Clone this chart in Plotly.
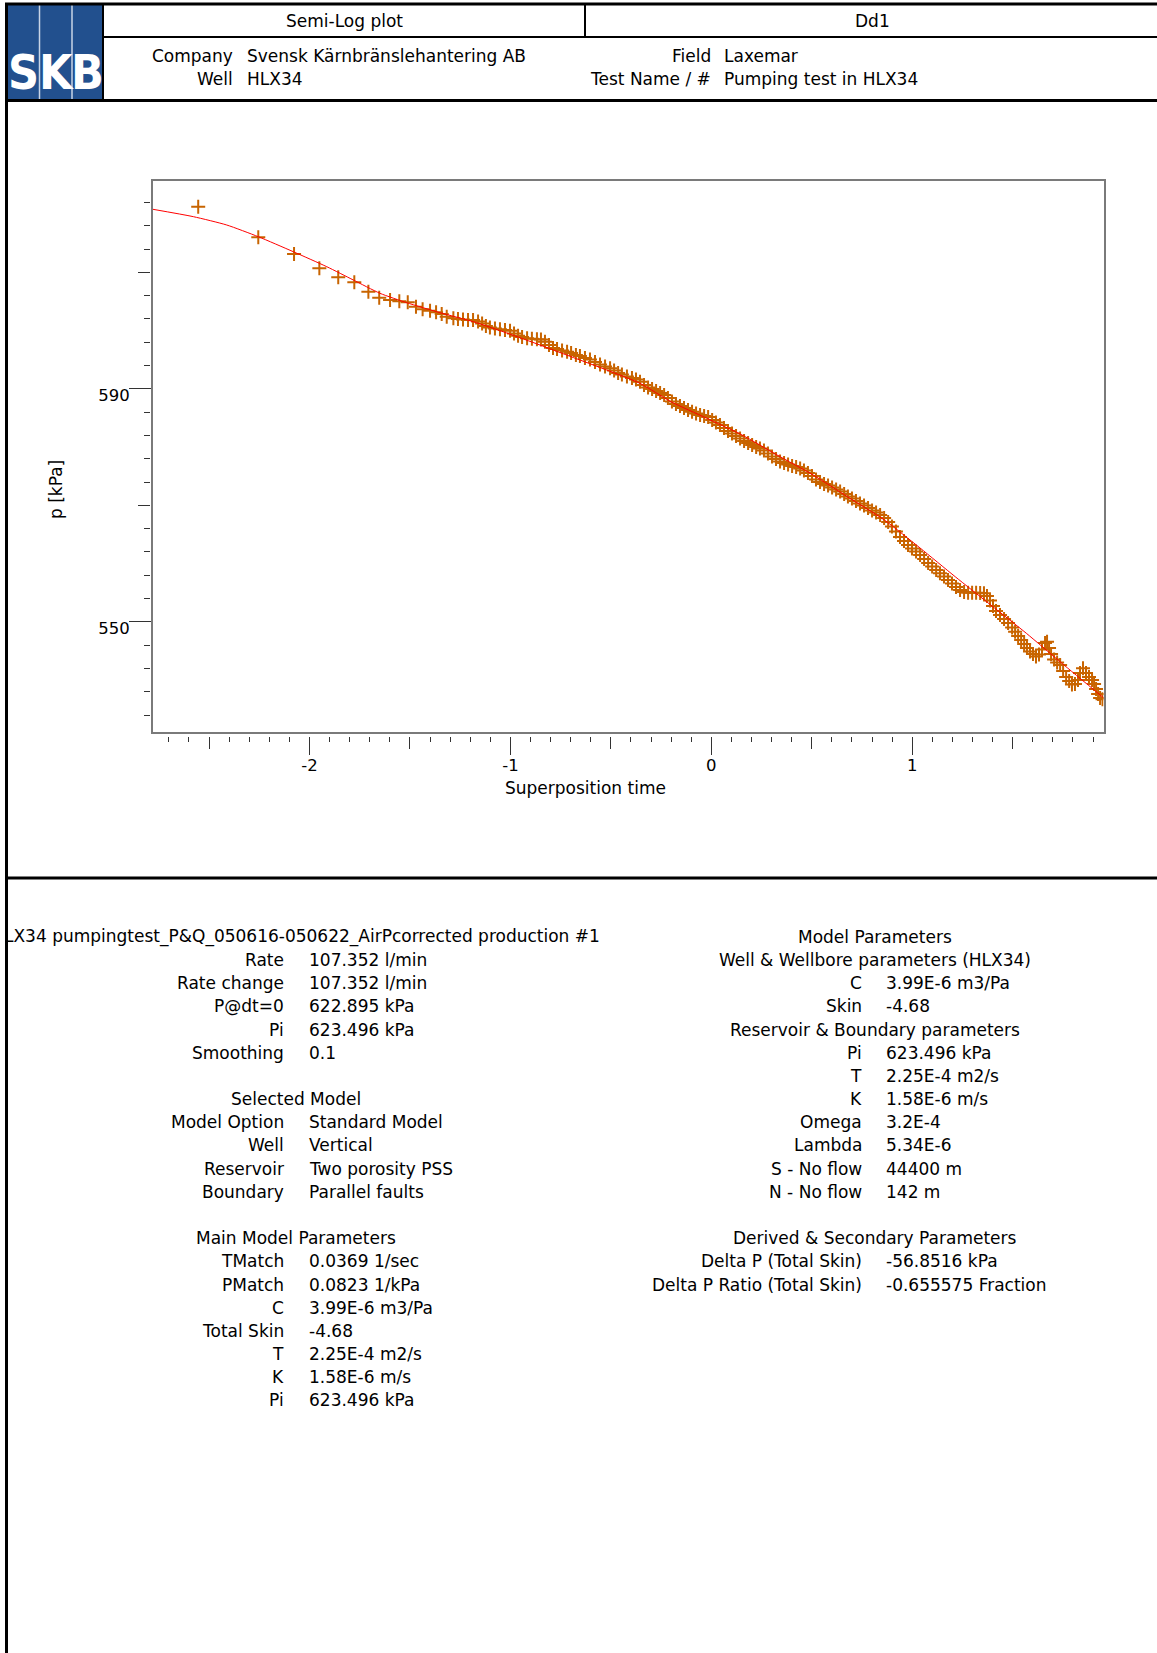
import plotly.graph_objects as go

W, H = 1157, 1653
FONT = "DejaVu Sans"
TXT = 17.0

# ---------------- data ----------------
obs_t = [-2.554, -2.255, -2.077, -1.951, -1.857, -1.777, -1.707, -1.653, -1.599, -1.553,
         -1.511, -1.470, -1.437, -1.400, -1.370, -1.342, -1.317, -1.284,
         -1.261, -1.236, -1.211, -1.186, -1.161, -1.141, -1.122, -1.102, -1.077, -1.052,
         -1.027, -1.002, -0.982, -0.962, -0.942, -0.917, -0.893, -0.868, -0.848, -0.828,
         -0.808, -0.788, -0.768, -0.743, -0.718, -0.698, -0.674, -0.654, -0.629, -0.604,
         -0.579, -0.554, -0.529, -0.504, -0.484, -0.464, -0.445, -0.420, -0.395, -0.375,
         -0.355, -0.335, -0.315, -0.295, -0.275, -0.255, -0.235, -0.216, -0.196, -0.176,
         -0.156, -0.136, -0.116, -0.096, -0.076, -0.056, -0.036, -0.016, 0.004, 0.023,
         0.043, 0.063, 0.083, 0.103, 0.123, 0.143, 0.163, 0.183, 0.203, 0.223,
         0.242, 0.262, 0.282, 0.302, 0.322, 0.342, 0.362, 0.382, 0.402, 0.422,
         0.442, 0.461, 0.481, 0.501, 0.521, 0.541, 0.561, 0.581, 0.601, 0.621,
         0.641, 0.661, 0.680, 0.700, 0.720, 0.740, 0.760, 0.780, 0.800, 0.820,
         0.840, 0.860, 0.880, 0.899, 0.919, 0.939, 0.959, 0.979, 0.999, 1.019,
         1.039, 1.059, 1.079, 1.099, 1.119, 1.138, 1.158, 1.178, 1.198, 1.218,
         1.238, 1.258, 1.278, 1.298, 1.318, 1.338, 1.357, 1.372, 1.387, 1.402,
         1.417, 1.437, 1.457, 1.477, 1.497, 1.512, 1.527, 1.542, 1.557, 1.571,
         1.586, 1.601, 1.616, 1.631, 1.646, 1.661, 1.671, 1.681, 1.691, 1.706,
         1.721, 1.736, 1.751, 1.766, 1.781, 1.795, 1.810, 1.825, 1.835, 1.850,
         1.865, 1.880, 1.895, 1.905, 1.915, 1.925, 1.935, 1.947]
obs_p = [621.26, 616.01, 613.14, 610.69, 609.14, 608.28, 606.67, 605.64, 605.24, 605.02,
         604.85, 604.09, 603.65, 603.41, 603.13, 602.84, 602.38, 602.10,
         601.98, 601.90, 601.81, 601.81, 601.55, 601.21, 600.78, 600.52, 600.35, 600.21,
         600.09, 599.97, 599.49, 599.12, 598.89, 598.67, 598.58, 598.51, 598.46, 598.09,
         597.52, 597.00, 596.83, 596.58, 596.37, 596.15, 595.80, 595.63, 595.29, 595.03,
         594.60, 594.17, 593.83, 593.52, 593.14, 592.71, 592.45, 592.11, 591.85, 591.60,
         591.22, 590.65, 590.22, 589.97, 589.62, 589.28, 588.94, 588.42, 587.82, 587.39,
         587.05, 586.70, 586.36, 586.07, 585.76, 585.50, 585.33, 585.16, 584.64, 584.21,
         583.79, 583.27, 582.76, 582.33, 581.90, 581.47, 581.04, 580.70, 580.35, 580.01,
         579.75, 579.41, 578.89, 578.38, 577.95, 577.52, 577.26, 577.00, 576.75, 576.58,
         576.32, 575.97, 575.55, 575.03, 574.43, 574.00, 573.66, 573.40, 573.06, 572.71,
         572.37, 571.94, 571.51, 571.17, 570.74, 570.31, 569.97, 569.54, 569.11, 568.76,
         568.33, 567.82, 567.13, 566.36, 565.50, 564.56, 563.87, 563.18, 562.58, 562.07,
         561.47, 560.78, 560.09, 559.49, 558.89, 558.33, 557.78, 557.18, 556.58, 555.97,
         555.46, 555.12, 555.00, 555.00, 555.00, 554.94, 554.89, 554.43, 553.66, 552.71,
         551.85, 551.17, 550.48, 549.79, 549.02, 548.30, 547.56, 546.88, 546.19, 545.50,
         544.90, 544.47, 544.04, 544.39, 545.24, 546.36, 546.58, 545.50, 544.47, 543.53,
         543.01, 542.58, 541.55, 540.52, 539.84, 539.24, 539.32, 540.01, 541.21, 542.02,
         541.21, 540.52, 540.01, 539.32, 538.46, 537.60, 536.92, 536.70]

model_t = [-2.780, -2.578, -2.412, -2.255, -2.081, -1.914, -1.782, -1.649, -1.516, -1.350,
           -1.185, -1.018, -0.853, -0.687, -0.521, -0.355, -0.201, -0.026, 0.153, 0.327,
           0.507, 0.680, 0.861, 1.039, 1.214, 1.391, 1.568, 1.745, 1.952]
model_p = [620.82, 619.55, 618.12, 616.11, 613.54, 610.96, 608.68, 606.39, 604.78, 603.06,
           601.52, 599.58, 597.52, 595.37, 593.23, 590.94, 587.79, 584.99, 582.07, 578.64,
           575.20, 571.42, 567.48, 562.67, 557.74, 552.88, 548.03, 542.88, 536.97]

x_major_ticks = [-2, -1, 0, 1]
x_major_text = ["-2", "-1", "0", "1"]
x_mid_ticks = [-2.5, -1.5, -0.5, 0.5, 1.5]
y_major_ticks = [550, 590]
y_major_text = ["550", "590"]
y_mid_ticks = [570, 610]
X_RANGE = [-2.780, 1.952]
Y_RANGE = [531.17, 625.76]

header_title = "Semi-Log plot"
header_id = "Dd1"
header_left_labels = ["Company", "Well"]
header_left_values = ["Svensk Kärnbränslehantering AB", "HLX34"]
header_right_labels = ["Field", "Test Name / #"]
header_right_values = ["Laxemar", "Pumping test in HLX34"]

data_title = "LX34 pumpingtest_P&amp;Q_050616-050622_AirPcorrected production #1"
# (row, label, value); value None means a centered heading
left_rows = [
    (1, "Rate", "107.352 l/min"),
    (2, "Rate change", "107.352 l/min"),
    (3, "P@dt=0", "622.895 kPa"),
    (4, "Pi", "623.496 kPa"),
    (5, "Smoothing", "0.1"),
    (7, "Selected Model", None),
    (8, "Model Option", "Standard Model"),
    (9, "Well", "Vertical"),
    (10, "Reservoir", "Two porosity PSS"),
    (11, "Boundary", "Parallel faults"),
    (13, "Main Model Parameters", None),
    (14, "TMatch", "0.0369 1/sec"),
    (15, "PMatch", "0.0823 1/kPa"),
    (16, "C", "3.99E-6 m3/Pa"),
    (17, "Total Skin", "-4.68"),
    (18, "T", "2.25E-4 m2/s"),
    (19, "K", "1.58E-6 m/s"),
    (20, "Pi", "623.496 kPa"),
]
right_rows = [
    (0, "Model Parameters", None),
    (1, "Well &amp; Wellbore parameters (HLX34)", None),
    (2, "C", "3.99E-6 m3/Pa"),
    (3, "Skin", "-4.68"),
    (4, "Reservoir &amp; Boundary parameters", None),
    (5, "Pi", "623.496 kPa"),
    (6, "T", "2.25E-4 m2/s"),
    (7, "K", "1.58E-6 m/s"),
    (8, "Omega", "3.2E-4"),
    (9, "Lambda", "5.34E-6"),
    (10, "S - No flow", "44400 m"),
    (11, "N - No flow", "142 m"),
    (13, "Derived &amp; Secondary Parameters", None),
    (14, "Delta P (Total Skin)", "-56.8516 kPa"),
    (15, "Delta P Ratio (Total Skin)", "-0.655575 Fraction"),
]

# ---------------- layout geometry (pixels) ----------------
PLOT_L, PLOT_R, PLOT_T, PLOT_B = 152.8, 1103.5, 180.5, 731.5
OBS_COLOR = "#C86400"
FRAME = "#7a7a7a"
TICKC = "#333333"


def px(x):
    return x / W


def py(y):
    return 1 - y / H


fig = go.Figure()
fig.add_trace(go.Scatter(x=obs_t, y=obs_p, mode="markers",
                         marker=dict(symbol="cross-thin", size=10, color=OBS_COLOR,
                                     line=dict(width=2, color=OBS_COLOR)),
                         showlegend=False, hoverinfo="skip"))
fig.add_trace(go.Scatter(x=model_t, y=model_p, mode="lines",
                         line=dict(color="#ff0000", width=1, shape="spline", smoothing=0.6),
                         showlegend=False, hoverinfo="skip"))
# empty traces that carry the tick-only axes
for xa, ya in [("x2", "y"), ("x3", "y"), ("x4", "y"), ("x", "y2"), ("x", "y3")]:
    fig.add_trace(go.Scatter(x=[], y=[], xaxis=xa, yaxis=ya, showlegend=False, hoverinfo="skip"))

common = dict(showgrid=False, zeroline=False, fixedrange=True)
tick_only = dict(showline=False, showticklabels=False, tickcolor=TICKC, tickwidth=1, ticks="outside", **common)
x_pos = py(PLOT_B + 4)
y_pos = px(PLOT_L - 2.7)

fig.update_layout(
    width=W, height=H, margin=dict(l=0, r=0, t=0, b=0),
    paper_bgcolor="white", plot_bgcolor="white",
    font=dict(family=FONT, size=16, color="black"),
    xaxis=dict(domain=[px(PLOT_L), px(PLOT_R)], range=X_RANGE, anchor="y",
               showline=True, mirror=True, linecolor=FRAME, linewidth=1.5,
               ticks="", showticklabels=False, **common),
    yaxis=dict(domain=[py(PLOT_B), py(PLOT_T)], range=Y_RANGE, anchor="x",
               showline=True, mirror=True, linecolor=FRAME, linewidth=1.5,
               tickmode="array", tickvals=y_major_ticks, ticktext=y_major_text,
               ticks="outside", ticklen=22, tickcolor=TICKC, tickwidth=1,
               ticklabelshift=6, ticklabelstandoff=-4,
               tickfont=dict(size=16.5, family=FONT, color="black"), **common),
    xaxis2=dict(overlaying="x", anchor="free", position=x_pos, side="bottom", range=X_RANGE,
                tickmode="linear", tick0=0, dtick=0.1, ticklen=5, **tick_only),
    xaxis3=dict(overlaying="x", anchor="free", position=x_pos, side="bottom", range=X_RANGE,
                tickmode="array", tickvals=x_mid_ticks, ticklen=12, **tick_only),
    xaxis4=dict(overlaying="x", anchor="free", position=x_pos, side="bottom", range=X_RANGE,
                tickmode="array", tickvals=x_major_ticks, ticktext=x_major_text, ticklen=18,
                ticklabelstandoff=-3,
                showline=False, showticklabels=True, tickcolor=TICKC, tickwidth=1, ticks="outside",
                tickfont=dict(size=16.5, family=FONT, color="black"), **common),
    yaxis2=dict(overlaying="y", anchor="free", position=y_pos, side="left", range=Y_RANGE,
                tickmode="linear", tick0=530, dtick=4, ticklen=6, **tick_only),
    yaxis3=dict(overlaying="y", anchor="free", position=y_pos, side="left", range=Y_RANGE,
                tickmode="array", tickvals=y_mid_ticks, ticklen=12, **tick_only),
)

shapes = []


def hline(y, x0, x1, w, color="black"):
    shapes.append(dict(type="line", xref="paper", yref="paper", x0=px(x0), x1=px(x1),
                       y0=py(y), y1=py(y), line=dict(color=color, width=w)))


def vline(x, y0, y1, w, color="black"):
    shapes.append(dict(type="line", xref="paper", yref="paper", x0=px(x), x1=px(x),
                       y0=py(y0), y1=py(y1), line=dict(color=color, width=w)))


# logo block
shapes.append(dict(type="rect", xref="paper", yref="paper", x0=px(6), x1=px(103),
                   y0=py(100), y1=py(4), fillcolor="#22508E", line=dict(width=0)))
vline(39.5, 4, 100, 1.5, "#c8d4e6")
vline(72, 4, 100, 1.5, "#c8d4e6")
# header frame
hline(4, 5, W, 3)
hline(37, 103, W, 2)
hline(100.5, 5, W, 3)
vline(103, 4, 100, 2)
vline(585, 4, 37, 2)
# page borders
vline(6.5, 3, H, 3)
hline(878, 5, W, 3)
fig.update_layout(shapes=shapes)

ann = []


def text(x, y, s, anchor="center", size=TXT, color="black", family=FONT, angle=0):
    ann.append(dict(x=px(x), y=py(y), xref="paper", yref="paper", text=s, showarrow=False,
                    xanchor=anchor, yanchor="middle", textangle=angle, borderpad=0,
                    font=dict(size=size, color=color, family=family)))


# logo letters
for letter, cx in [("S", 23), ("K", 56), ("B", 88)]:
    text(cx, 72, "<b>" + letter + "</b>", size=48, color="white", family="DejaVu Sans Condensed")

text(344, 21, header_title)
text(872, 21, header_id)
for i, (lab, val) in enumerate(zip(header_left_labels, header_left_values)):
    yy = 56 + 23 * i
    text(234, yy, lab, anchor="right")
    text(245.5, yy, val, anchor="left")
for i, (lab, val) in enumerate(zip(header_right_labels, header_right_values)):
    yy = 56 + 23 * i
    text(711.5, yy, lab, anchor="right")
    text(723, yy, val, anchor="left")

# axis titles
text(56, 490, "p [kPa]", angle=-90)
text(585, 788, "Superposition time")

ROW0, STEP = 936.8, 23.18
text(600.6, ROW0, data_title, anchor="right")
for r, lab, val in left_rows:
    yy = ROW0 + STEP * r
    if val is None:
        text(296, yy, lab)
    else:
        text(284.5, yy, lab, anchor="right")
        text(307.7, yy, val, anchor="left")
for r, lab, val in right_rows:
    yy = ROW0 + STEP * r
    if val is None:
        text(874.6, yy, lab)
    else:
        text(863, yy, lab, anchor="right")
        text(885, yy, val, anchor="left")

fig.update_layout(annotations=ann)
fig.write_html("out.html")
